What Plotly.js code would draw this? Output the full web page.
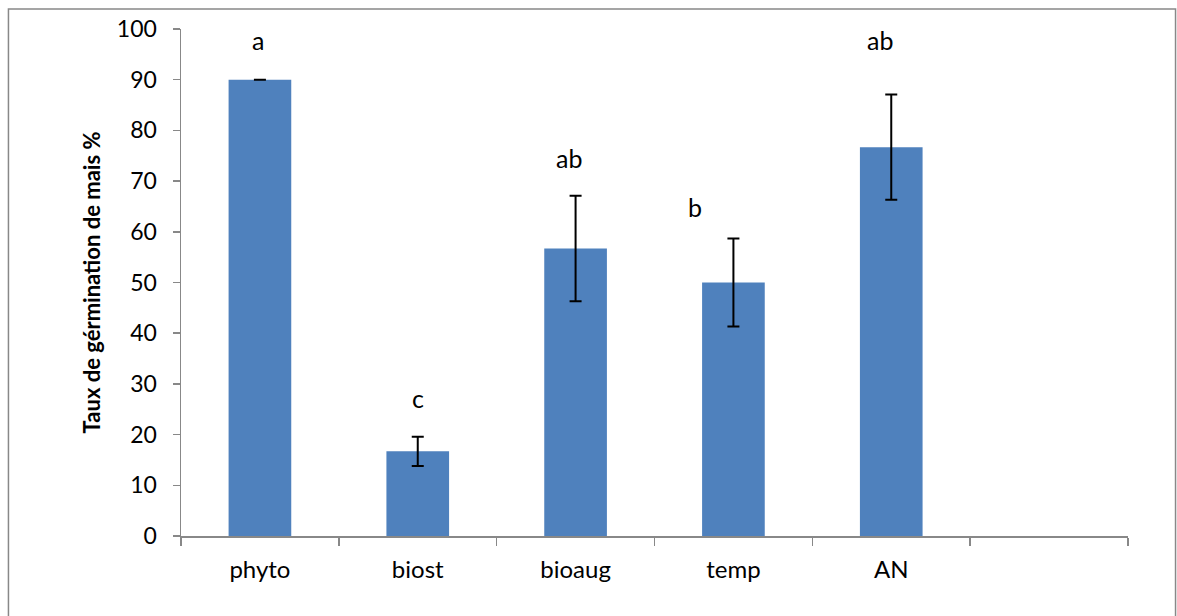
<!DOCTYPE html>
<html>
<head>
<meta charset="utf-8">
<script src="https://cdn.plot.ly/plotly-3.0.1.min.js"></script>
<style>html,body{margin:0;padding:0;background:#fff;}#chart{width:1177px;height:616px;}</style>
</head>
<body>
<div id="chart"></div>
<script>
const categories = ["phyto", "biost", "bioaug", "temp", "AN", " "];
const values = [90, 16.7, 56.7, 50, 76.7, null];
const errors = [0, 2.9, 10.4, 8.7, 10.4, null];
const letters = ["a", "c", "ab", "b", "ab"];
const letterY = [97.8, 27.2, 74.6, 64.9, 97.8];
const letterShift = [-2, 0, -7, -38, -11];

const font = "Lato, 'Open Sans', sans-serif";

const trace = {
  type: "bar",
  x: categories,
  y: values,
  width: 0.397,
  marker: {color: "#4F81BD", line: {width: 0}},
  error_y: {type: "data", array: errors, visible: true, color: "#000", thickness: 2, width: 6},
  hoverinfo: "x+y"
};

const annotations = letters.map((t, i) => ({
  x: categories[i], y: letterY[i], xref: "x", yref: "y",
  text: t, showarrow: false, xshift: letterShift[i],
  font: {family: font, size: 25, color: "#000"}
}));

const layout = {
  width: 1177, height: 616,
  margin: {l: 181, r: 49, t: 29, b: 80},
  paper_bgcolor: "#fff", plot_bgcolor: "#fff",
  showlegend: false,
  xaxis: {
    type: "category",
    range: [-0.5, 5.5],
    tickson: "boundaries",
    ticks: "outside", ticklen: 8, tickwidth: 1.5, tickcolor: "#888",
    showline: true, linecolor: "#888", linewidth: 1.5,
    showgrid: false, zeroline: false,
    tickfont: {family: font, size: 24, color: "#000"},
    ticklabelstandoff: 12
  },
  yaxis: {
    range: [0, 100],
    tickvals: [0,10,20,30,40,50,60,70,80,90,100],
    ticks: "outside", ticklen: 7, tickwidth: 1.5, tickcolor: "#888",
    showline: true, linecolor: "#888", linewidth: 1.5,
    showgrid: false, zeroline: false,
    tickfont: {family: font, size: 23, color: "#000"},
    ticklabelstandoff: 11,
    title: {text: "Taux de gérmination de mais %", font: {family: font, size: 22, color: "#000", weight: "bold"}, standoff: 10}
  },
  annotations: annotations,
  shapes: [{
    type: "rect", xref: "paper", yref: "paper",
    x0: -0.1822, x1: 1.0502, y0: -0.17, y1: 1.0394,
    line: {color: "#888", width: 1.5}, fillcolor: "rgba(0,0,0,0)", layer: "below"
  }]
};

Plotly.newPlot("chart", [trace], layout, {displayModeBar: false, staticPlot: true});
</script>
</body>
</html>
